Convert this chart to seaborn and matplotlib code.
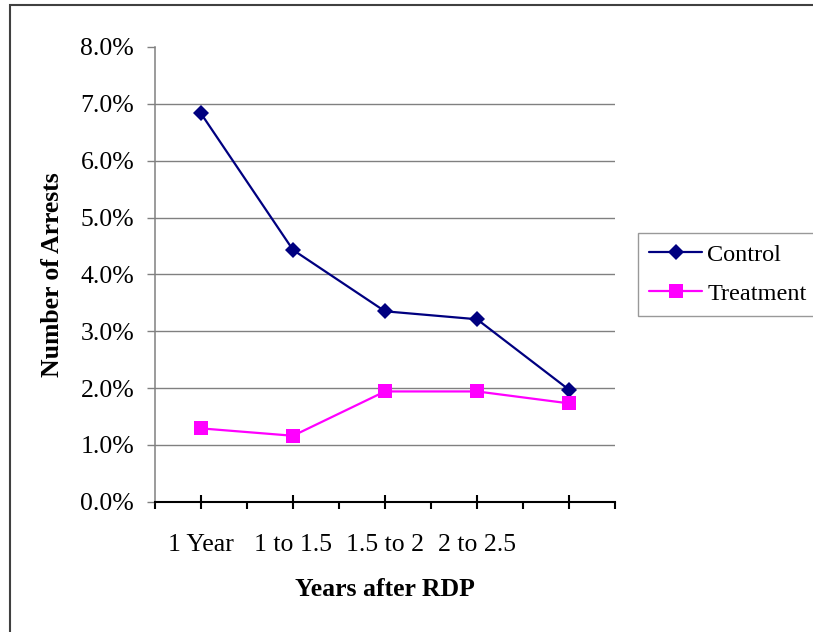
import numpy as np
import pandas as pd
import matplotlib
matplotlib.use("Agg")
import matplotlib.pyplot as plt
from matplotlib.patches import Rectangle
from matplotlib.ticker import PercentFormatter, FixedLocator
import seaborn as sns

# ---- data ----
categories = ["1 Year", "1 to 1.5", "1.5 to 2", "2 to 2.5", ""]
control = [0.0683, 0.0443, 0.0335, 0.0321, 0.0197]
treatment = [0.0129, 0.0116, 0.0194, 0.0194, 0.0173]
series_names = ["Control", "Treatment"]
y_ticks = [0.0, 0.01, 0.02, 0.03, 0.04, 0.05, 0.06, 0.07, 0.08]

positions = np.arange(len(categories))
df = pd.DataFrame({
    "pos": np.concatenate([positions, positions]),
    "value": control + treatment,
    "series": [series_names[0]] * len(control) + [series_names[1]] * len(treatment),
})

sns.set_style("white")
plt.rcParams["font.family"] = ["Liberation Serif", "DejaVu Serif"]
FS = 18.5
plt.rcParams["font.size"] = FS
plt.rcParams["text.color"] = "black"
plt.rcParams["axes.labelcolor"] = "black"
plt.rcParams["xtick.color"] = "black"
plt.rcParams["ytick.color"] = "black"

W, H = 813, 632
fig = plt.figure(figsize=(W / 100, H / 100), dpi=100)
ax = fig.add_axes([155 / W, 1 - 501.7 / H, 460 / W, 454.7 / H])

palette = {"Control": "#000080", "Treatment": "#FF00FF"}
markers = {"Control": "D", "Treatment": "s"}
sns.lineplot(data=df, x="pos", y="value", hue="series", style="series",
             palette=palette, markers=markers, dashes=False, ax=ax,
             linewidth=1.6, markersize=10, markeredgewidth=0, legend=True)
for line in ax.get_lines():
    if line.get_marker() == "D":
        line.set_markersize(8)

ax.set_xlim(-0.5, len(categories) - 0.5)
ax.set_ylim(y_ticks[0], y_ticks[-1])

# y axis
ax.set_yticks(y_ticks)
ax.yaxis.set_major_formatter(PercentFormatter(xmax=1, decimals=1))
ax.tick_params(axis="y", which="major", direction="out", length=6, width=1,
               color="#808080", labelcolor="black", pad=9, labelsize=FS, left=True)
ax.grid(axis="y", color="#808080", linewidth=1)
ax.yaxis.get_gridlines()[-1].set_visible(False)
ax.yaxis.get_gridlines()[0].set_visible(False)

# x axis
ax.xaxis.set_major_locator(FixedLocator(np.arange(-0.5, len(categories), 1.0)))
ax.xaxis.set_minor_locator(FixedLocator(positions))
ax.set_xticklabels([])
ax.set_xticklabels(categories, minor=True)
ax.tick_params(axis="x", which="major", direction="out", length=5, width=1.5,
               color="black", bottom=True, labelbottom=False)
ax.tick_params(axis="x", which="minor", direction="inout", length=10, width=1.5,
               color="black", bottom=True, pad=18, labelsize=FS)

ax.set_xlabel("Years after RDP", fontsize=FS, fontweight="bold")
ax.set_ylabel("Number of Arrests", fontsize=FS, fontweight="bold")
ax.xaxis.set_label_coords(0.5, -0.168)
ax.yaxis.set_label_coords(-0.198, 0.5)

for s in ["top", "right"]:
    ax.spines[s].set_visible(False)
ax.spines["left"].set_color("#808080")
ax.spines["left"].set_linewidth(1.1)
ax.spines["bottom"].set_color("black")
ax.spines["bottom"].set_linewidth(1.5)

# legend
handles, labels = ax.get_legend_handles_labels()
leg = ax.legend(handles, labels, loc="upper left",
                bbox_to_anchor=(638 / W, 1 - 233 / H), bbox_transform=fig.transFigure,
                frameon=True, fancybox=False, edgecolor="#808080", fontsize=17.5,
                handlelength=2.2, handletextpad=0.2, borderpad=0.45,
                labelspacing=0.7, borderaxespad=0)
leg.get_frame().set_linewidth(1)

# outer chart border
fig.patches.append(Rectangle((9.5 / W, -0.1), 1.2, 1 - 4.5 / H + 0.1,
                             transform=fig.transFigure, fill=False,
                             edgecolor="#404040", linewidth=1.5))

fig.savefig("out.png", dpi=100)
